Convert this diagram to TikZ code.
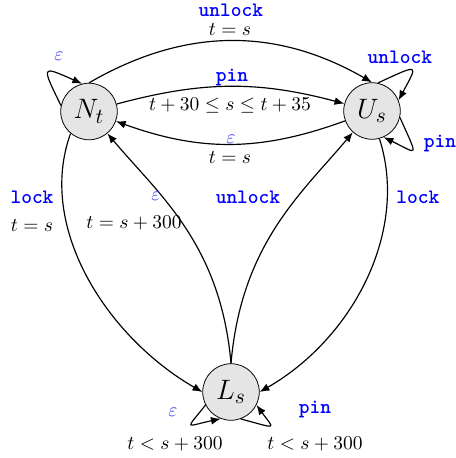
\documentclass[tikz,border=0pt]{standalone}
\usetikzlibrary{arrows.meta}
\begin{document}
\begin{tikzpicture}[x=0.5128pt,y=0.5128pt,
  state/.style={circle,draw,fill=gray!20,minimum size=29pt,inner sep=0pt,font=\fontsize{15}{18}\selectfont},
  tr/.style={-{Latex[length=5pt,width=4pt]},semithick},
  act/.style={text=blue,font=\fontsize{10.5}{12}\selectfont\ttfamily\bfseries},
  eps/.style={text=blue!75},
  guard/.style={font=\normalsize}]
\useasboundingbox (0,0) rectangle (456,-458);
\node[state] (N) at (89,-111.5) {$N_t$};
\node[state] (U) at (372,-111) {$U_s$};
\node[state] (L) at (231,-392) {$L_s$};
% top
\draw[tr] (N.north) to[bend left=30] (U.north);
\node[act] (a1) at (231,-10) {unlock};
\node[guard] (g1) at (230,-29) {$t=s$};
% pin
\draw[tr] (N) to[bend left=15] (U);
\node[act] (a2) at (232,-77) {pin};
\node[guard] (g2) at (230,-106) {$t+30\leq s\leq t+35$};
% eps back
\draw[tr] (U) to[bend left=20] (N);
\node[eps] (a3) at (231,-139) {$\varepsilon$};
\node[guard] (g3) at (230,-157) {$t=s$};
% N loop
\draw[tr] (N.168) .. controls +(116:45) and +(156:45) .. (N.104);
\node[eps] (a4) at (59,-56) {$\varepsilon$};
% U loops
\draw[tr] (U.78) .. controls +(25:47) and +(62:41) .. (U.22);
\node[act] (a5) at (400,-57) {unlock};
\draw[tr] (U.-13) .. controls +(-66:46) and +(-26:39) .. (U.-66);
\node[act] (a6) at (440,-144) {pin};
% lock left
\draw[tr] (N.-130) .. controls +(-110:100) and +(150:110) .. (L.west);
\node[act] (a7) at (32,-197) {lock};
\node[guard] (g7) at (32,-225) {$t=s$};
% lock right
\draw[tr] (U.-75) .. controls +(-72:95) and +(30:110) .. (L.east);
\node[act] (a8) at (418,-197) {lock};
% L to N
\draw[tr] (L.north) .. controls +(95:120) and +(-50:80) .. (N.-50);
\node[eps] (a9) at (156,-196) {$\varepsilon$};
\node[guard] (g9) at (134,-223) {$t=s+300$};
% L to U
\draw[tr] (L.north) .. controls +(85:120) and +(-130:80) .. (U.-132);
\node[act] (a10) at (248,-197) {unlock};
% L loops
\draw[tr] (L.207) .. controls +(232:33) and +(192:37) .. (L.-111);
\node[eps] (a11) at (173,-412) {$\varepsilon$};
\node[guard] (g11) at (175,-444) {$t<s+300$};
\draw[tr] (L.-70) .. controls +(-15:39) and +(-54:31) .. (L.-27);
\node[act] (a12) at (315,-410) {pin};
\node[guard] (g12) at (315,-444) {$t<s+300$};
\end{tikzpicture}
\end{document}
